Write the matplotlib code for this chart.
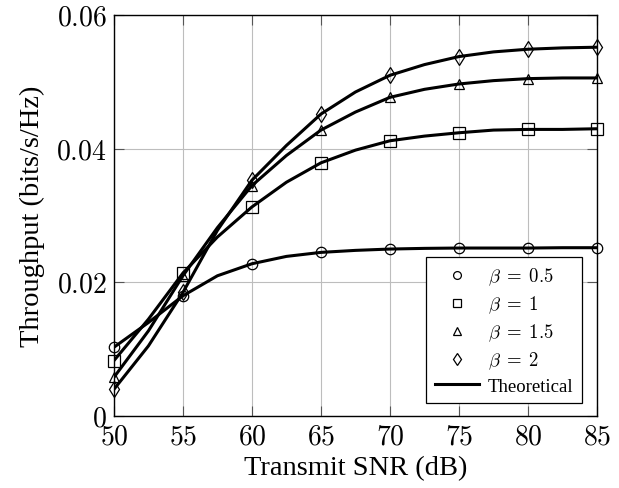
import matplotlib
matplotlib.use("Agg")
import matplotlib.pyplot as plt
from matplotlib.lines import Line2D

plt.rcParams['font.family'] = ['Liberation Serif', 'DejaVu Serif']
plt.rcParams['mathtext.fontset'] = 'cm'

# simulated points
snr = [50, 55, 60, 65, 70, 75, 80, 85]
beta_05 = [0.0103, 0.0180, 0.0228, 0.0245, 0.0250, 0.02515, 0.02515, 0.0252]
beta_1 = [0.0083, 0.0214, 0.0313, 0.0379, 0.0412, 0.0424, 0.0429, 0.0430]
beta_15 = [0.0058, 0.0210, 0.0345, 0.0428, 0.0477, 0.0497, 0.0505, 0.0506]
beta_2 = [0.0040, 0.0185, 0.0353, 0.0452, 0.0510, 0.0538, 0.0549, 0.0552]

# theoretical curves, read at 2.5 dB steps
snr_th = [50, 52.5, 55, 57.5, 60, 62.5, 65, 67.5, 70, 72.5, 75, 77.5, 80, 82.5, 85]
th_05 = [0.0103, 0.0140, 0.0180, 0.0210, 0.0228, 0.0239, 0.0245, 0.0248,
         0.0250, 0.0251, 0.02515, 0.02515, 0.02515, 0.0252, 0.0252]
th_1 = [0.0083, 0.0145, 0.0214, 0.0268, 0.0313, 0.0350, 0.0379, 0.0398,
        0.0412, 0.0419, 0.0424, 0.0428, 0.0429, 0.0429, 0.0430]
th_15 = [0.0058, 0.01275, 0.0210, 0.0282, 0.0345, 0.0390, 0.0428, 0.0455,
         0.0477, 0.0489, 0.0497, 0.0502, 0.0505, 0.0506, 0.0506]
th_2 = [0.0040, 0.0105, 0.0185, 0.0278, 0.0353, 0.0405, 0.0452, 0.0485,
        0.0510, 0.0526, 0.0538, 0.0545, 0.0549, 0.0551, 0.0552]

labels = [r'$\beta\;=\;0.5$', r'$\beta\;=\;1$', r'$\beta\;=\;1.5$', r'$\beta\;=\;2$']
markers = ['o', 's', '^', 'd']
msizes = [7.5, 8, 7, 8]

xticks = [50, 55, 60, 65, 70, 75, 80, 85]
yticks = [0, 0.02, 0.04, 0.06]
ytick_labels = ['0', '0.02', '0.04', '0.06']

fig = plt.figure(figsize=(6.19, 4.89), dpi=100)
ax = fig.add_axes([0.184, 0.147, 0.7805, 0.820])

for th in [th_05, th_1, th_15, th_2]:
    ax.plot(snr_th, th, color='black', lw=2.2, solid_joinstyle='round', zorder=3)

handles = []
for vals, lab, m, ms in zip([beta_05, beta_1, beta_15, beta_2], labels, markers, msizes):
    ax.plot(snr, vals, linestyle='none', marker=m, ms=ms, mfc='none',
            mec='black', mew=0.9, zorder=4, clip_on=False)
    handles.append(Line2D([], [], linestyle='none', marker=m, ms=ms * 0.75,
                          mfc='none', mec='black', mew=0.9, label=lab))
handles.append(Line2D([], [], color='black', lw=2.2, label='Theoretical'))

ax.set_xlim(50, 85)
ax.set_ylim(0, 0.06)
ax.set_xticks(xticks)
ax.set_xticklabels(['$%d$' % t for t in xticks])
ax.set_yticks(yticks)
ax.set_yticklabels(['$%s$' % t for t in ytick_labels])
ax.grid(True, color='#bdbdbd', lw=0.8)
ax.tick_params(direction='in', length=7, width=0.8, color='#555555',
               labelsize=20, top=True, right=True)
ax.tick_params(axis='x', pad=6)
ax.tick_params(axis='y', pad=5)
for s in ax.spines.values():
    s.set_linewidth(1.0)

ax.set_xlabel('Transmit SNR (dB)', fontsize=20.5, labelpad=4)
ax.set_ylabel('Throughput (bits/s/Hz)', fontsize=20.5, labelpad=8)

leg = ax.legend(handles=handles, loc='lower right', fontsize=13.5,
                fancybox=False, edgecolor='black', framealpha=1,
                handlelength=2.35, handletextpad=0.5, borderpad=0.45,
                labelspacing=0.35, borderaxespad=0,
                bbox_to_anchor=(0.969, 0.032))
leg.get_frame().set_linewidth(0.9)

fig.savefig('out.png', dpi=100)
